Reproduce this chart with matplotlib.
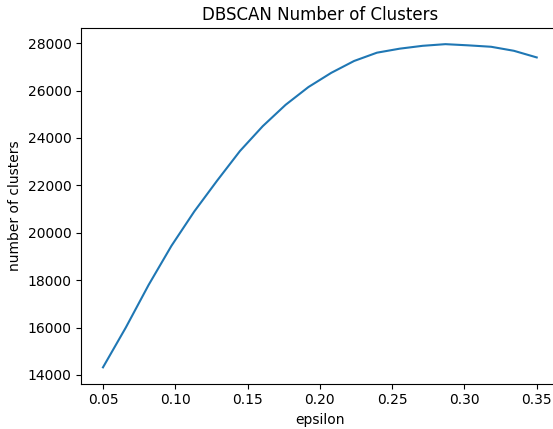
import numpy as np
import matplotlib
matplotlib.use("Agg")
import matplotlib.pyplot as plt

epsilon = np.linspace(0.05, 0.35, 20)
n_clusters = [14320, 16000, 17800, 19450, 20900, 22200, 23450, 24500, 25400, 26150,
              26750, 27250, 27600, 27770, 27890, 27960, 27910, 27850, 27680, 27400]

fig = plt.figure(figsize=(5.53, 4.29), dpi=100)
ax = fig.add_axes([81.3/553, 45.5/429, 477.1/553, 355.5/429])
ax.plot(epsilon, n_clusters, color='#1f77b4')
ax.set_title("DBSCAN Number of Clusters")
ax.set_xlabel("epsilon")
ax.set_ylabel("number of clusters")
ax.set_xticks([0.05, 0.10, 0.15, 0.20, 0.25, 0.30, 0.35])
fig.savefig("out.png", dpi=100)
